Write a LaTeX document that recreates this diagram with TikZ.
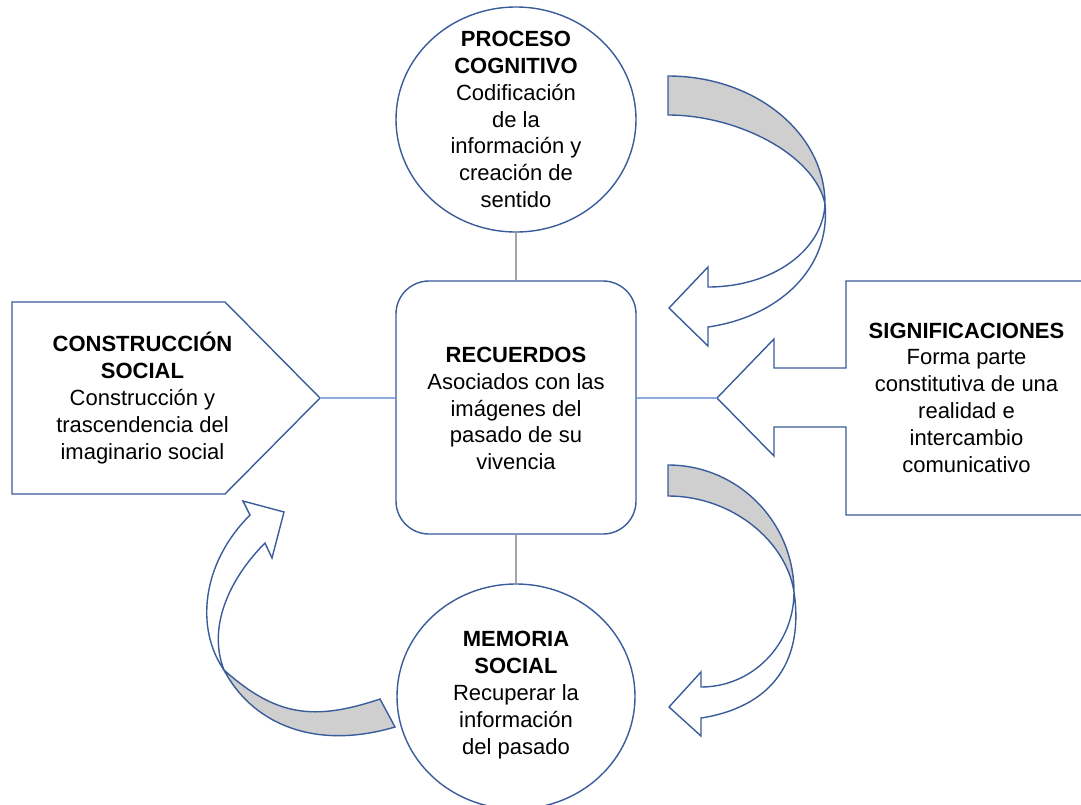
\documentclass[tikz,border=0pt]{standalone}
\usepackage{fontspec}
\setmainfont{Liberation Sans}
\usetikzlibrary{shapes.geometric}
\definecolor{oblue}{RGB}{58,92,155}
\definecolor{shade}{RGB}{207,207,207}
\definecolor{vline}{RGB}{165,165,165}
\definecolor{hline}{RGB}{143,170,220}
\tikzset{
  outl/.style={draw=oblue, line width=1.4pt, line join=miter},
  txt/.style={align=center, font=\fontsize{22pt}{26.8pt}\selectfont, inner sep=0pt, text=black},
  vconn/.style={draw=vline, line width=1.2pt},
  hconn/.style={draw=hline, line width=1.2pt},
  backband/.style={outl, fill=shade},
  frontband/.style={outl, fill=white}
}
\begin{document}
\begin{tikzpicture}[x=1pt,y=1pt]
\useasboundingbox (0,0) rectangle (1081,-804);
\clip (0,0) rectangle (1081,-804);
\fill[white] (0,0) rectangle (1081,-804);

\node[ellipse, outl, fill=white, minimum width=240pt, minimum height=225pt, inner sep=0pt] (pc) at (516,-119.5) {};
\node[rectangle, outl, fill=white, rounded corners=33pt, minimum width=240pt, minimum height=253pt, inner sep=0pt] (rec) at (516,-407.5) {};
\node[ellipse, outl, fill=white, minimum width=238pt, minimum height=225pt, inner sep=0pt] (ms) at (516,-696.5) {};

% left pentagon
\coordinate (cstip) at (320,-398);
\draw[outl, fill=white] (12,-302) -- (225,-302) -- (cstip) -- (225,-494) -- (12,-494) -- cycle;
% right callout
\coordinate (sigtip) at (717,-398);
\draw[outl, fill=white] (846,-281) -- (1095,-281) -- (1095,-515) -- (846,-515) -- (846,-427) -- (774,-427) -- (774,-456) -- (sigtip) -- (774,-339) -- (774,-368) -- (846,-368) -- cycle;

\draw[vconn] (pc.south) -- (rec.north);
\draw[vconn] (rec.south) -- (ms.north);
\draw[hconn] (cstip) -- (cstip -| rec.west);
\draw[hconn] (sigtip -| rec.east) -- (sigtip);

% texts
\node[txt] (pctext) at (pc.center) {\textbf{PROCESO}\\\textbf{COGNITIVO}\\Codificación\\de la\\información y\\creación de\\sentido};
\node[txt] (rectext) at (516,-408.5) {\textbf{RECUERDOS}\\Asociados con las\\imágenes del\\pasado de su\\vivencia};
\node[txt] (mstext) at (516,-695) {\textbf{MEMORIA}\\\textbf{SOCIAL}\\Recuperar la\\información\\del pasado};
\node[txt] (cstext) at (142.5,-398) {\textbf{CONSTRUCCIÓN}\\\textbf{SOCIAL}\\Construcción y\\trascendencia del\\imaginario social};
\node[txt] (sigtext) at (966.5,-397.5) {\textbf{SIGNIFICACIONES}\\Forma parte\\constitutiva de una\\realidad e\\intercambio\\comunicativo};

% curved arrow 1 (top right)
\draw[backband] (668,-76) .. controls (755,-76) and (825,-133) .. (825,-204)
  .. controls (815,-155) and (738,-115) .. (668,-115) -- cycle;
\draw[frontband] (825,-204) .. controls (823,-250) and (773,-287) .. (708,-287)
  -- (708,-267) -- (669,-308) -- (708,-346) -- (708,-327)
  .. controls (778,-317) and (831,-269) .. (825,-204) -- cycle;

% curved arrow 2 (bottom right)
\draw[backband] (668,-465) .. controls (738,-465) and (794,-522) .. (794,-592)
  .. controls (786.5,-542) and (733,-496) .. (668,-496) -- cycle;
\draw[frontband] (794,-592) .. controls (794,-644) and (753,-687) .. (701,-687)
  -- (701,-672) -- (669,-707) -- (701,-736) -- (701,-718)
  .. controls (766,-708) and (805,-667) .. (794,-592) -- cycle;

% curved arrow 3 (bottom left)
\draw[backband] (224,-670) .. controls (275.5,-716) and (313.5,-721.4) .. (380,-699)
  -- (395,-727) .. controls (310,-752) and (250,-720) .. (224,-670) -- cycle;
\draw[frontband] (224,-670) .. controls (195.5,-629) and (201,-564) .. (250,-515)
  -- (243,-501) -- (284,-512) -- (272,-558) -- (265,-543)
  .. controls (233.5,-574.5) and (206,-623.5) .. (224,-670) -- cycle;
\end{tikzpicture}
\end{document}
